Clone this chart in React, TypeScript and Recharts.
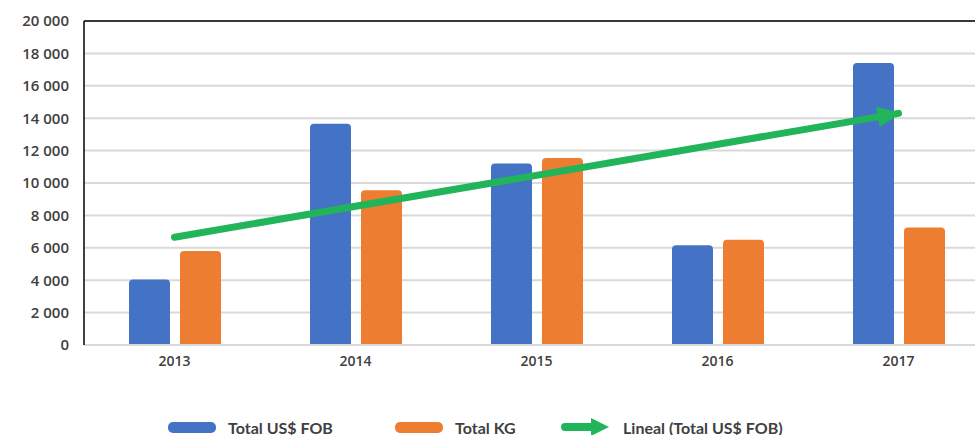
import {
  ComposedChart, Bar, Line, XAxis, YAxis, CartesianGrid, ReferenceLine,
} from 'recharts';

const YEARS = ['2013', '2014', '2015', '2016', '2017'];
const FOB = [4050, 13650, 11200, 6150, 17400];
const KG = [5800, 9550, 11550, 6500, 7250];
// trend line endpoints (middle left open, joined)
const TREND = [6650, null, null, null, 14300];
const Y_TICKS = [0, 2000, 4000, 6000, 8000, 10000, 12000, 14000, 16000, 18000, 20000];
const SERIES = ['Total US$ FOB', 'Total KG', 'Lineal (Total US$ FOB)'];

const BLUE = '#4472c4';
const ORANGE = '#ed7d31';
const GREEN = '#22b45a';
const TEXT = '#404040';

const rows = YEARS.map((year, i) => ({ year, fob: FOB[i], kg: KG[i], trend: TREND[i] }));

const fmt = (v: number) => (v >= 1000 ? `${Math.floor(v / 1000)} ${String(v % 1000).padStart(3, '0')}` : String(v));

// arrow head on the last trend point
function ArrowDot(props: any) {
  const { cx, cy, index, points } = props;
  if (index !== YEARS.length - 1 || cx == null) return <g key={`d-${index}`} />;
  const first = points?.[0];
  const ang = first ? Math.atan2(cy - first.y, cx - first.x) : 0;
  const deg = (ang * 180) / Math.PI;
  return (
    <g key={`d-${index}`} transform={`translate(${cx},${cy}) rotate(${deg})`}>
      <path d="M0,0 L-20,-9 L-20,9 Z" fill={GREEN} stroke={GREEN} strokeWidth={2} strokeLinejoin="round" />
    </g>
  );
}

function LegendRow() {
  const item = (left: number, swatch: JSX.Element, label: string) => (
    <div style={{ position: 'absolute', left, top: 0, display: 'flex', alignItems: 'center', height: 14 }}>
      {swatch}
      <span style={{ marginLeft: 12, fontFamily: 'Lato, sans-serif', fontWeight: 700, fontSize: 16, color: TEXT, whiteSpace: 'nowrap' }}>{label}</span>
    </div>
  );
  const pill = (c: string) => <div style={{ width: 48, height: 11, borderRadius: 5, background: c }} />;
  const arrow = (
    <svg width={50} height={22}>
      <line x1={4} y1={11} x2={32} y2={11} stroke={GREEN} strokeWidth={8} strokeLinecap="round" />
      <path d="M48,11 L30,2 L30,20 Z" fill={GREEN} />
    </svg>
  );
  return (
    <div style={{ position: 'absolute', left: 0, top: 420, width: 975, height: 14 }}>
      {item(168, pill(BLUE), SERIES[0])}
      {item(395, pill(ORANGE), SERIES[1])}
      {item(561, arrow, SERIES[2])}
    </div>
  );
}

export default function App() {
  return (
    <div style={{ position: 'fixed', left: 0, top: 0, width: 975, height: 435, overflow: 'hidden', background: '#fff' }}>
      <ComposedChart
        width={990}
        height={380}
        data={rows}
        margin={{ top: 21, right: 1, left: 0, bottom: 0 }}
        barSize={41}
        barGap={10}
      >
        <CartesianGrid vertical={false} stroke="#d9d9d9" strokeWidth={2} />
        <XAxis
          dataKey="year"
          height={35}
          tickLine={false}
          tickSize={0}
          tickMargin={11}
          axisLine={{ stroke: '#d9d9d9', strokeWidth: 2 }}
          tick={{ fill: TEXT, fontSize: 14, fontWeight: 600, fontFamily: '"Open Sans", sans-serif' }}
        />
        <YAxis
          width={84}
          domain={[0, 20000]}
          ticks={Y_TICKS}
          interval={0}
          tickFormatter={fmt}
          tickLine={false}
          tickSize={0}
          tickMargin={15}
          axisLine={{ stroke: '#000', strokeWidth: 1.5 }}
          tick={{ fill: TEXT, fontSize: 15, fontWeight: 600, fontFamily: '"Open Sans", sans-serif' }}
        />
        <ReferenceLine y={20000} stroke="#000" strokeWidth={1.5} />
        <Bar dataKey="fob" name={SERIES[0]} fill={BLUE} radius={[4, 4, 0, 0]} isAnimationActive={false} />
        <Bar dataKey="kg" name={SERIES[1]} fill={ORANGE} radius={[4, 4, 0, 0]} isAnimationActive={false} />
        <Line
          dataKey="trend"
          name={SERIES[2]}
          connectNulls
          stroke={GREEN}
          strokeWidth={7}
          strokeLinecap="round"
          dot={ArrowDot}
          activeDot={false}
          isAnimationActive={false}
        />
      </ComposedChart>
      <LegendRow />
    </div>
  );
}
